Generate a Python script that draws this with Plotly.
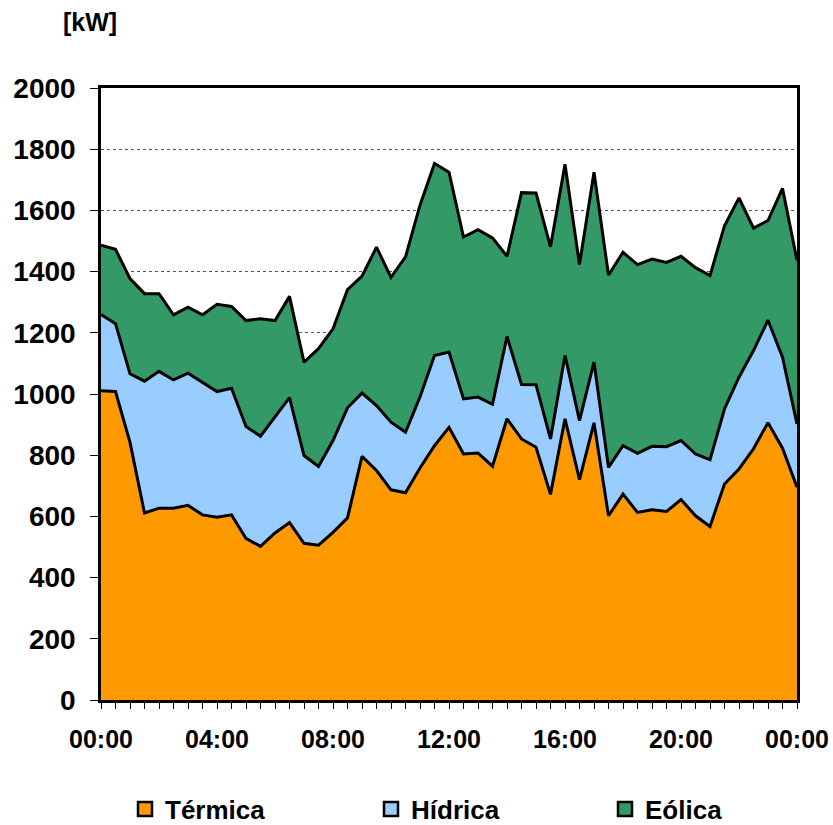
import plotly.graph_objects as go

hours = [i * 0.5 for i in range(49)]

termica = [1011, 1008, 842, 611, 627, 627, 636, 605, 597, 605, 528, 502, 546, 580, 512, 506,
           548, 595, 796, 750, 687, 677, 758, 831, 891, 804, 807, 764, 919, 853, 826, 672,
           919, 720, 906, 602, 673, 613, 622, 616, 655, 602, 567, 706, 755, 821, 906, 823, 695]
hidrica = [249, 222, 224, 431, 447, 419, 432, 434, 411, 414, 366, 360, 378, 408, 287, 257,
           300, 360, 207, 212, 221, 198, 232, 295, 246, 180, 183, 202, 269, 178, 204, 181,
           207, 193, 198, 158, 158, 193, 207, 212, 193, 202, 218, 245, 300, 321, 335, 297, 207]
eolica = [226, 243, 311, 286, 254, 213, 216, 220, 285, 267, 346, 384, 316, 331, 305, 385,
          365, 386, 382, 518, 473, 573, 627, 627, 588, 529, 547, 544, 262, 627, 627, 628,
          625, 510, 621, 629, 632, 617, 612, 602, 602, 609, 602, 599, 586, 400, 326, 552, 535]

names = ["Térmica", "Hídrica", "Eólica"]
colors = ["#FF9900", "#99CCFF", "#339966"]
series = [termica, hidrica, eolica]

tick_vals = [0, 4, 8, 12, 16, 20, 24]
tick_text = ["00:00", "04:00", "08:00", "12:00", "16:00", "20:00", "00:00"]

FONT = "Liberation Sans, Arial, sans-serif"

L, R, T, B = 101, 36, 88, 125
W, H = 833, 825
pw, ph = W - L - R, H - T - B

fig = go.Figure()
for name, col, vals in zip(names, colors, series):
    fig.add_trace(go.Scatter(
        x=hours, y=vals, name=name, stackgroup="one", mode="lines",
        line=dict(color="black", width=3), fillcolor=col, showlegend=False,
    ))
legend_ids = ["legend", "legend2", "legend3"]
for name, col, lid in zip(names, colors, legend_ids):
    fig.add_trace(go.Scatter(
        x=[None], y=[None], name=name, mode="markers", legend=lid,
        marker=dict(symbol="square", size=14, color=col, line=dict(color="black", width=2.5)),
    ))

legend_left_px = [125, 371, 605]
leg_y = (H - B - 809) / ph
legs = {}
for lid, lx in zip(legend_ids, legend_left_px):
    legs[lid] = dict(x=(lx - L) / pw, y=leg_y, xanchor="left", yanchor="middle",
                     orientation="h", bgcolor="rgba(0,0,0,0)",
                     font=dict(family=FONT, size=26, weight="bold", color="black"))

fig.update_layout(
    width=W, height=H,
    margin=dict(l=L, r=R, t=T, b=B, autoexpand=False),
    paper_bgcolor="white", plot_bgcolor="white",
    font=dict(family=FONT, color="black", size=20, weight="bold"),
    showlegend=True,
    annotations=[dict(text="[kW]", x=(90 - L) / pw, y=(H - B - 22) / ph,
                      xref="paper", yref="paper", xanchor="center", yanchor="middle",
                      showarrow=False, font=dict(family=FONT, size=25, weight="bold"))],
    **legs,
)

fig.update_xaxes(
    range=[0, 24], tickvals=tick_vals, ticktext=tick_text,
    ticks="outside", ticklen=6, tickcolor="black", tickwidth=1,
    minor=dict(dtick=0.5, ticks="outside", ticklen=6, tickcolor="black", tickwidth=1),
    showline=True, linecolor="black", linewidth=2.5, mirror=True,
    showgrid=False, zeroline=False, ticklabelstandoff=9,
    tickfont=dict(family=FONT, size=25, weight="bold"),
)
fig.update_yaxes(
    range=[0, 2000], dtick=200,
    ticks="outside", ticklen=8, tickcolor="black", tickwidth=1,
    showline=True, linecolor="black", linewidth=2.5, mirror=True,
    showgrid=True, gridcolor="#555555", griddash="dot", gridwidth=1, zeroline=False,
    ticklabelstandoff=9,
    tickfont=dict(family=FONT, size=28, weight="bold"),
)

fig.write_html("out.html", config={"displayModeBar": False},
               post_script="document.body.style.margin='0px';document.body.style.overflow='hidden';")
